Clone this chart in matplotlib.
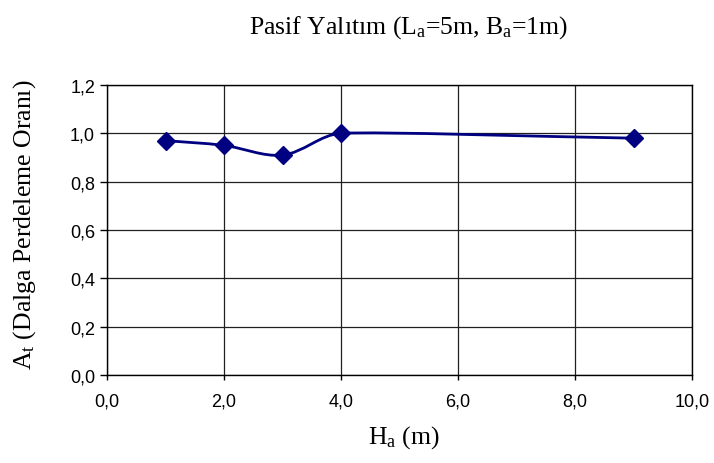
import numpy as np
import matplotlib.pyplot as plt
from matplotlib.path import Path
from matplotlib.patches import PathPatch
from matplotlib.ticker import FuncFormatter

# data
ha = [1, 2, 3, 4, 9]
at = [0.97, 0.95, 0.91, 1.00, 0.98]

xticks = [0, 2, 4, 6, 8, 10]
yticks = [0, 0.2, 0.4, 0.6, 0.8, 1.0, 1.2]

navy = '#000080'
serif = 'Liberation Serif'
sans = 'Liberation Sans'

# axes box in figure pixels (714 x 464)
L, R, T, B = 107, 692, 86, 376
sx = (R - L) / 10.0     # px per x unit
sy = (B - T) / 1.2      # px per y unit


def smooth_path(x, y):
    # smoothed line like Excel: cubic bezier, tangents from neighbours,
    # control length tied to the segment lengths on screen
    pts = np.column_stack([x, y]).astype(float)
    scr = pts * [sx, sy]
    n = len(pts)
    segs = [np.hypot(*(scr[i + 1] - scr[i])) for i in range(n - 1)]
    verts = [pts[0]]
    codes = [Path.MOVETO]

    def tangent(i):
        a = scr[max(i - 1, 0)]
        b = scr[min(i + 1, n - 1)]
        d = b - a
        return d / np.hypot(*d)

    for i in range(n - 1):
        seg = segs[i]
        k1 = 0.33 * min(seg, 2 * segs[i - 1]) if i > 0 else 0.33 * seg
        k2 = 0.33 * min(seg, 2 * segs[i + 1]) if i < n - 2 else 0.33 * seg
        c1 = scr[i] + tangent(i) * k1
        c2 = scr[i + 1] - tangent(i + 1) * k2
        verts += [c1 / [sx, sy], c2 / [sx, sy], pts[i + 1]]
        codes += [Path.CURVE4] * 3
    return Path(verts, codes)


fig = plt.figure(figsize=(7.14, 4.64), dpi=100)
ax = fig.add_axes([L / 714, 1 - B / 464, (R - L) / 714, (B - T) / 464])

ax.add_patch(PathPatch(smooth_path(ha, at), fill=False, edgecolor=navy, lw=2, zorder=3))
ax.plot(ha, at, linestyle='none', marker='D', ms=9.5, color=navy, zorder=4)

ax.set_xlim(0, 10)
ax.set_ylim(0, 1.2)
ax.set_xticks(xticks)
ax.set_yticks(yticks)
fmt = FuncFormatter(lambda v, p: f"{v:.1f}".replace('.', ','))
ax.xaxis.set_major_formatter(fmt)
ax.yaxis.set_major_formatter(fmt)
for lab in ax.get_xticklabels() + ax.get_yticklabels():
    lab.set_fontfamily(sans)
    lab.set_fontsize(13)
ax.tick_params(axis='x', direction='out', length=3.6, width=1, color='black', pad=9)
ax.tick_params(axis='y', direction='out', length=5, width=1, color='black', pad=3.6)
ax.grid(True, color='#202020', lw=0.9)
ax.set_axisbelow(True)
for s in ax.spines.values():
    s.set_linewidth(1)
    s.set_color('black')

fig.text(409 / 714, 0.94, r'Pasif Yalıtım (L$\mathregular{_a}$=5m, B$\mathregular{_a}$=1m)',
         ha='center', va='center', family=serif, fontsize=18.5)
fig.text(404 / 714, 1 - 438 / 464, r'H$\mathregular{_a}$ (m)', ha='center', va='center',
         family=serif, fontsize=18.5)
fig.text(25 / 714, 1 - 225 / 464, r'A$\mathregular{_t}$ (Dalga Perdeleme Oranı)', ha='center',
         va='center', rotation=90, family=serif, fontsize=18.5)

fig.savefig('out.png', dpi=100)
